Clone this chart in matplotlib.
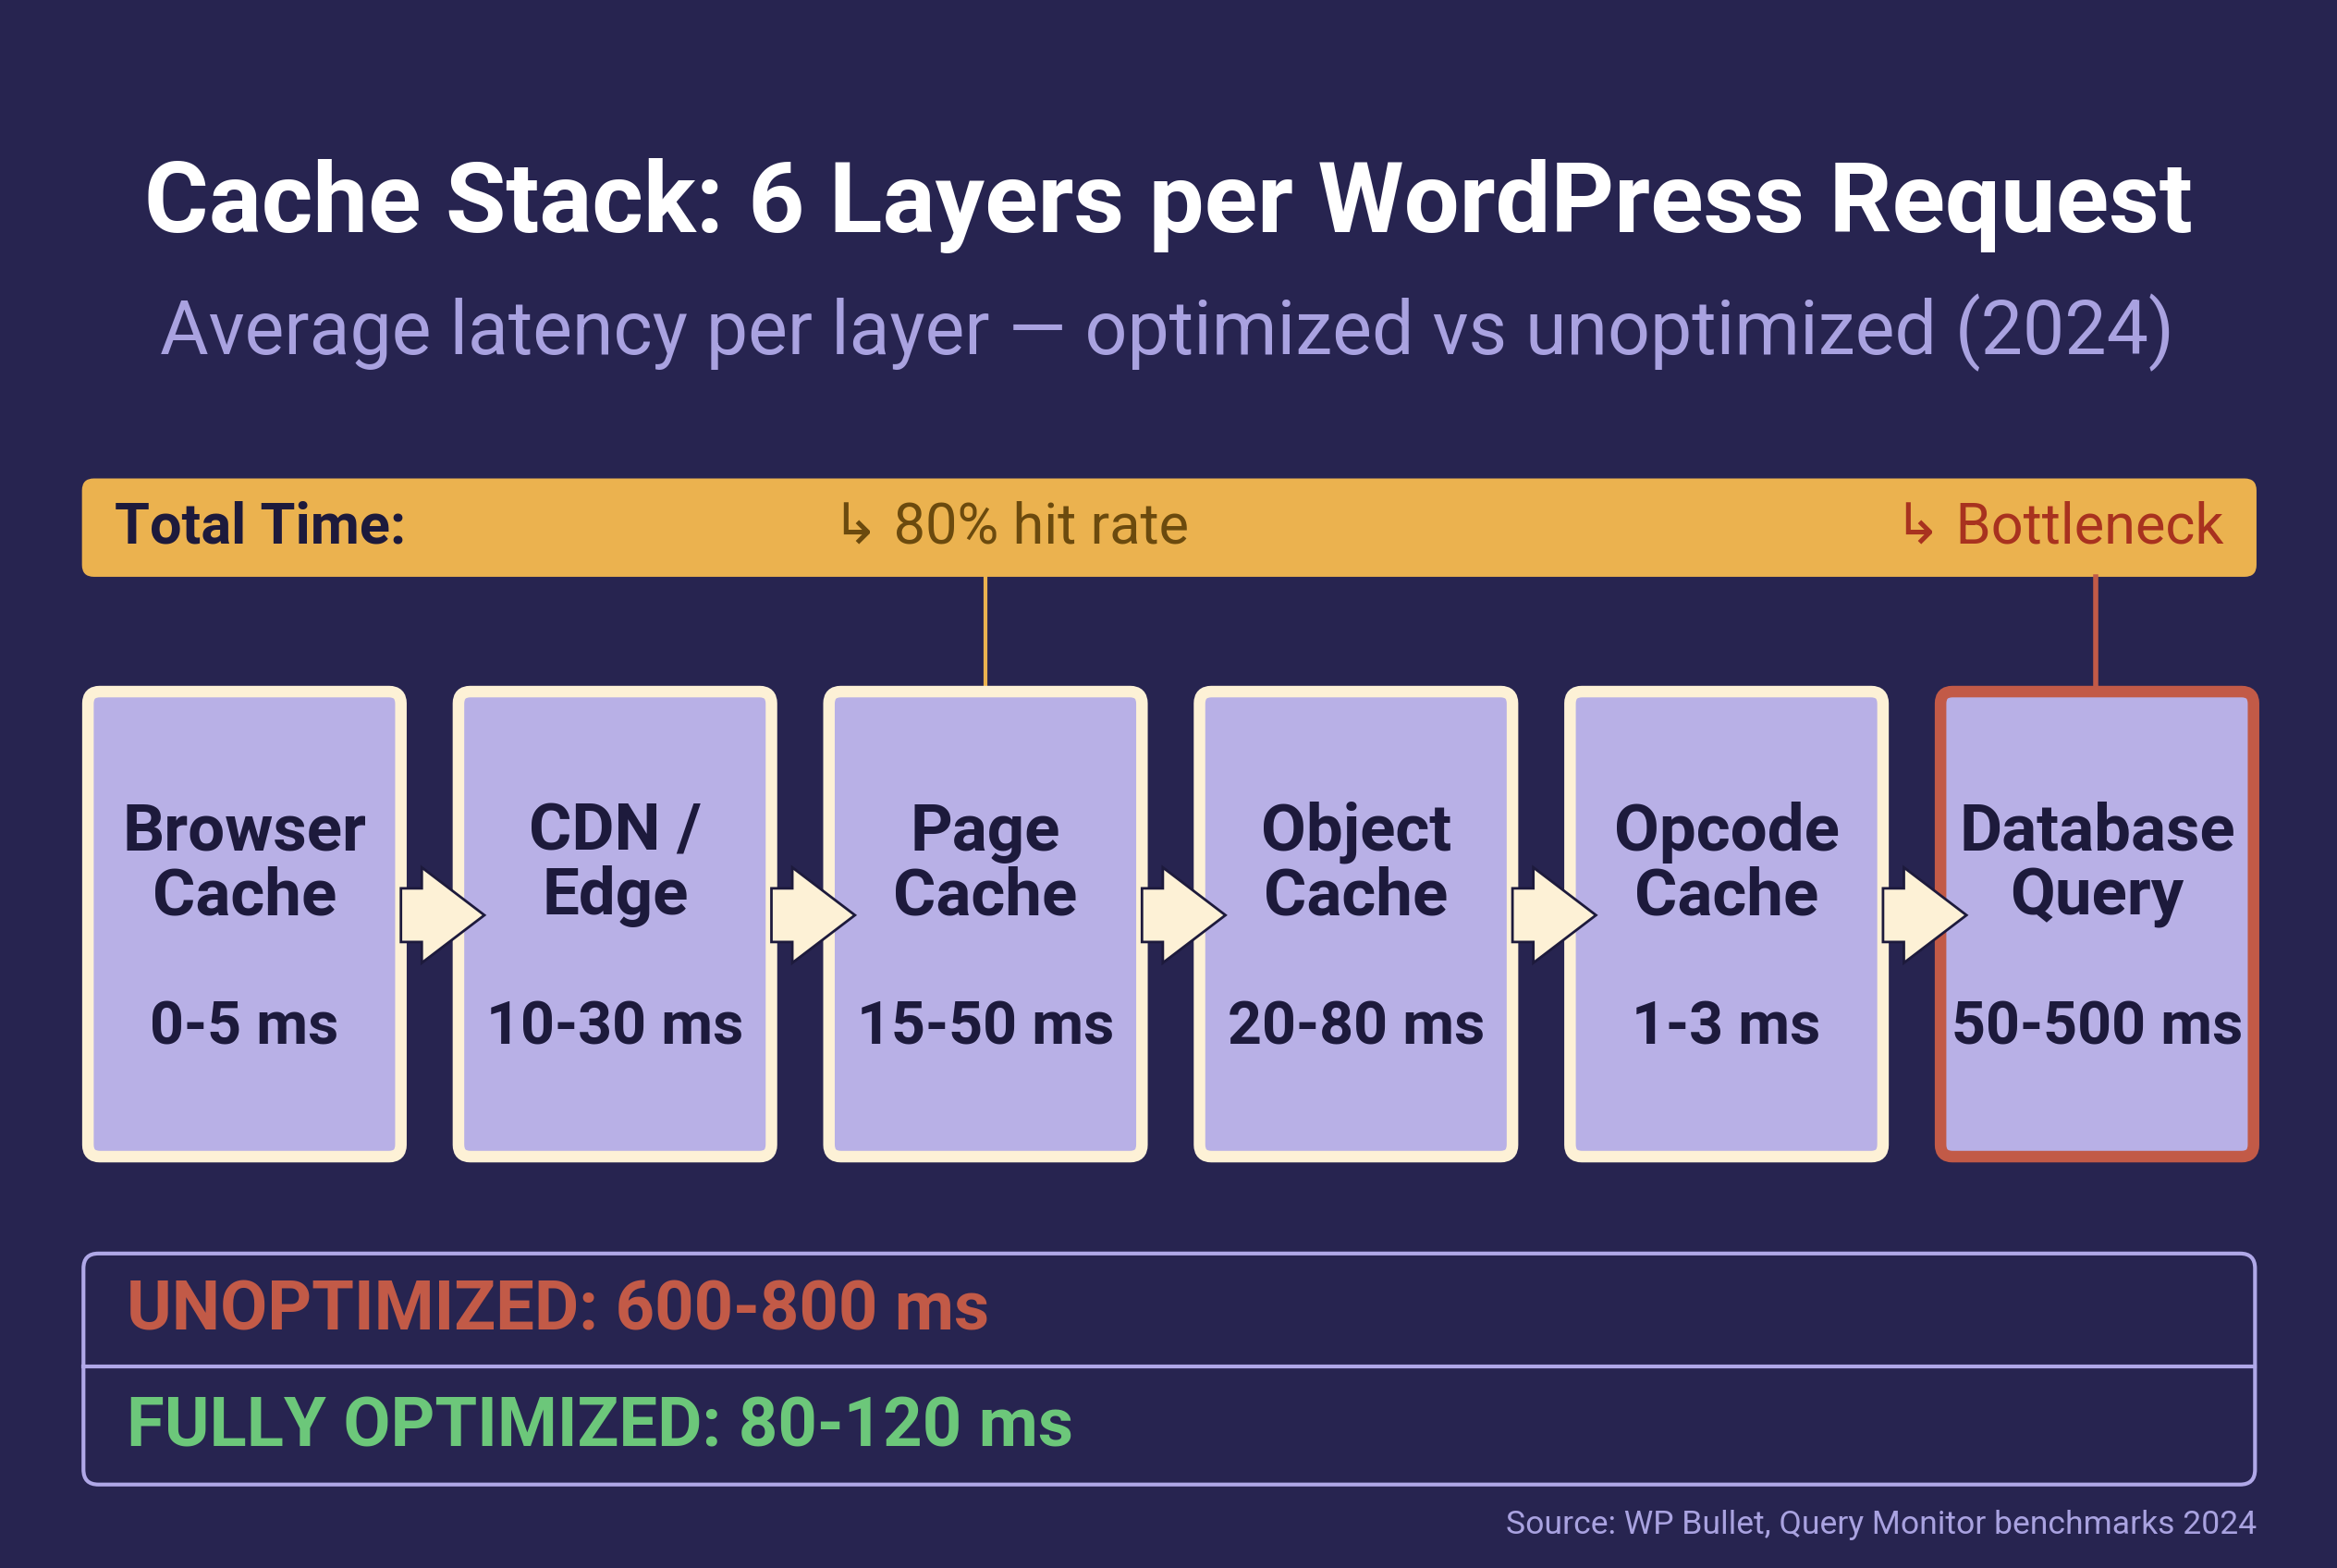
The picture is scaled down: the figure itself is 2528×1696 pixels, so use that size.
import matplotlib
matplotlib.use("Agg")
import matplotlib.pyplot as plt
from matplotlib.patches import FancyBboxPatch, Polygon

layers = ["Browser\nCache", "CDN /\nEdge", "Page\nCache", "Object\nCache", "Opcode\nCache", "Database\nQuery"]
latency = ["0-5 ms", "10-30 ms", "15-50 ms", "20-80 ms", "1-3 ms", "50-500 ms"]
title = "Cache Stack: 6 Layers per WordPress Request"
subtitle = "Average latency per layer — optimized vs unoptimized (2024)"
unopt = "UNOPTIMIZED: 600-800 ms"
opt = "FULLY OPTIMIZED: 80-120 ms"
source = "Source: WP Bullet, Query Monitor benchmarks 2024"

BG = "#272450"; GOLD = "#EBB24F"; FILL = "#B8B0E6"; CREAM = "#FDF1D6"
RED = "#C25A47"; DARK = "#1D1A3C"; SUB = "#A9A2E0"; GREEN = "#6CC77A"

W, H = 1568, 1052
S = 2528 / W
def fs(px): return px * S * 0.72

plt.rcParams['font.family'] = ['Roboto', 'DejaVu Sans']
fig = plt.figure(figsize=(25.28, 16.96), dpi=100, facecolor=BG)
ax = fig.add_axes([0, 0, 1, 1]); ax.set_xlim(0, W); ax.set_ylim(H, 0); ax.axis('off')
ax.set_facecolor(BG)

ax.text(W/2, 138, title, ha='center', va='center', color='white', fontsize=fs(66), fontweight='bold')
ax.text(783, 223, subtitle, ha='center', va='center', color=SUB, fontsize=fs(50))

# gold bar
ax.add_patch(FancyBboxPatch((55, 321), 1459, 66, boxstyle="round,pad=0,rounding_size=8", fc=GOLD, ec='none'))
ax.text(77, 354, "Total Time:", ha='left', va='center', color=DARK, fontsize=fs(38), fontweight='bold')
ax.text(558, 354, "↳ 80% hit rate", ha='left', va='center', color="#6B4A0E", fontsize=fs(38))
ax.text(1492, 354, "↳ Bottleneck", ha='right', va='center', color="#A8321F", fontsize=fs(38))

x0, bw, step, y0, bh = 55, 218, 248.6, 460, 320
ax.plot([661, 661], [387, y0], color=GOLD, lw=3, zorder=1)
ax.plot([1406, 1406], [387, y0], color=RED, lw=4, zorder=1)

for i, (lab, lat) in enumerate(zip(layers, latency)):
    x = x0 + i * step
    ec = RED if i == len(layers) - 1 else CREAM
    ax.add_patch(FancyBboxPatch((x + 4, y0 + 4), bw - 8, bh - 8, boxstyle="round,pad=0,rounding_size=8",
                                fc=FILL, ec=ec, lw=9, zorder=2))
    cx = x + bw / 2
    ax.text(cx, 580, lab, ha='center', va='center', color=DARK, fontsize=fs(44), fontweight='bold',
            linespacing=1.05, zorder=3)
    ax.text(cx, 690, lat, ha='center', va='center', color=DARK, fontsize=fs(40), fontweight='bold', zorder=3)
    if i < len(layers) - 1:
        ax1 = x + bw
        pts = [(ax1 - 4, 596), (ax1 + 10, 596), (ax1 + 10, 582), (ax1 + 52, 614),
               (ax1 + 10, 646), (ax1 + 10, 632), (ax1 - 4, 632)]
        ax.add_patch(Polygon(pts, closed=True, fc=CREAM, ec=DARK, lw=2, zorder=4))

ax.add_patch(FancyBboxPatch((56, 841), 1457, 155, boxstyle="round,pad=0,rounding_size=10", fc='none', ec="#B0A8E8", lw=3))
ax.plot([56, 1513], [917, 917], color="#B0A8E8", lw=3)
ax.text(85, 880, unopt, ha='left', va='center', color=RED, fontsize=fs(46), fontweight='bold')
ax.text(85, 958, opt, ha='left', va='center', color=GREEN, fontsize=fs(46), fontweight='bold')
ax.text(1514, 1023, source, ha='right', va='center', color=SUB, fontsize=fs(22))

fig.savefig("out.png", dpi=100, facecolor=BG)
